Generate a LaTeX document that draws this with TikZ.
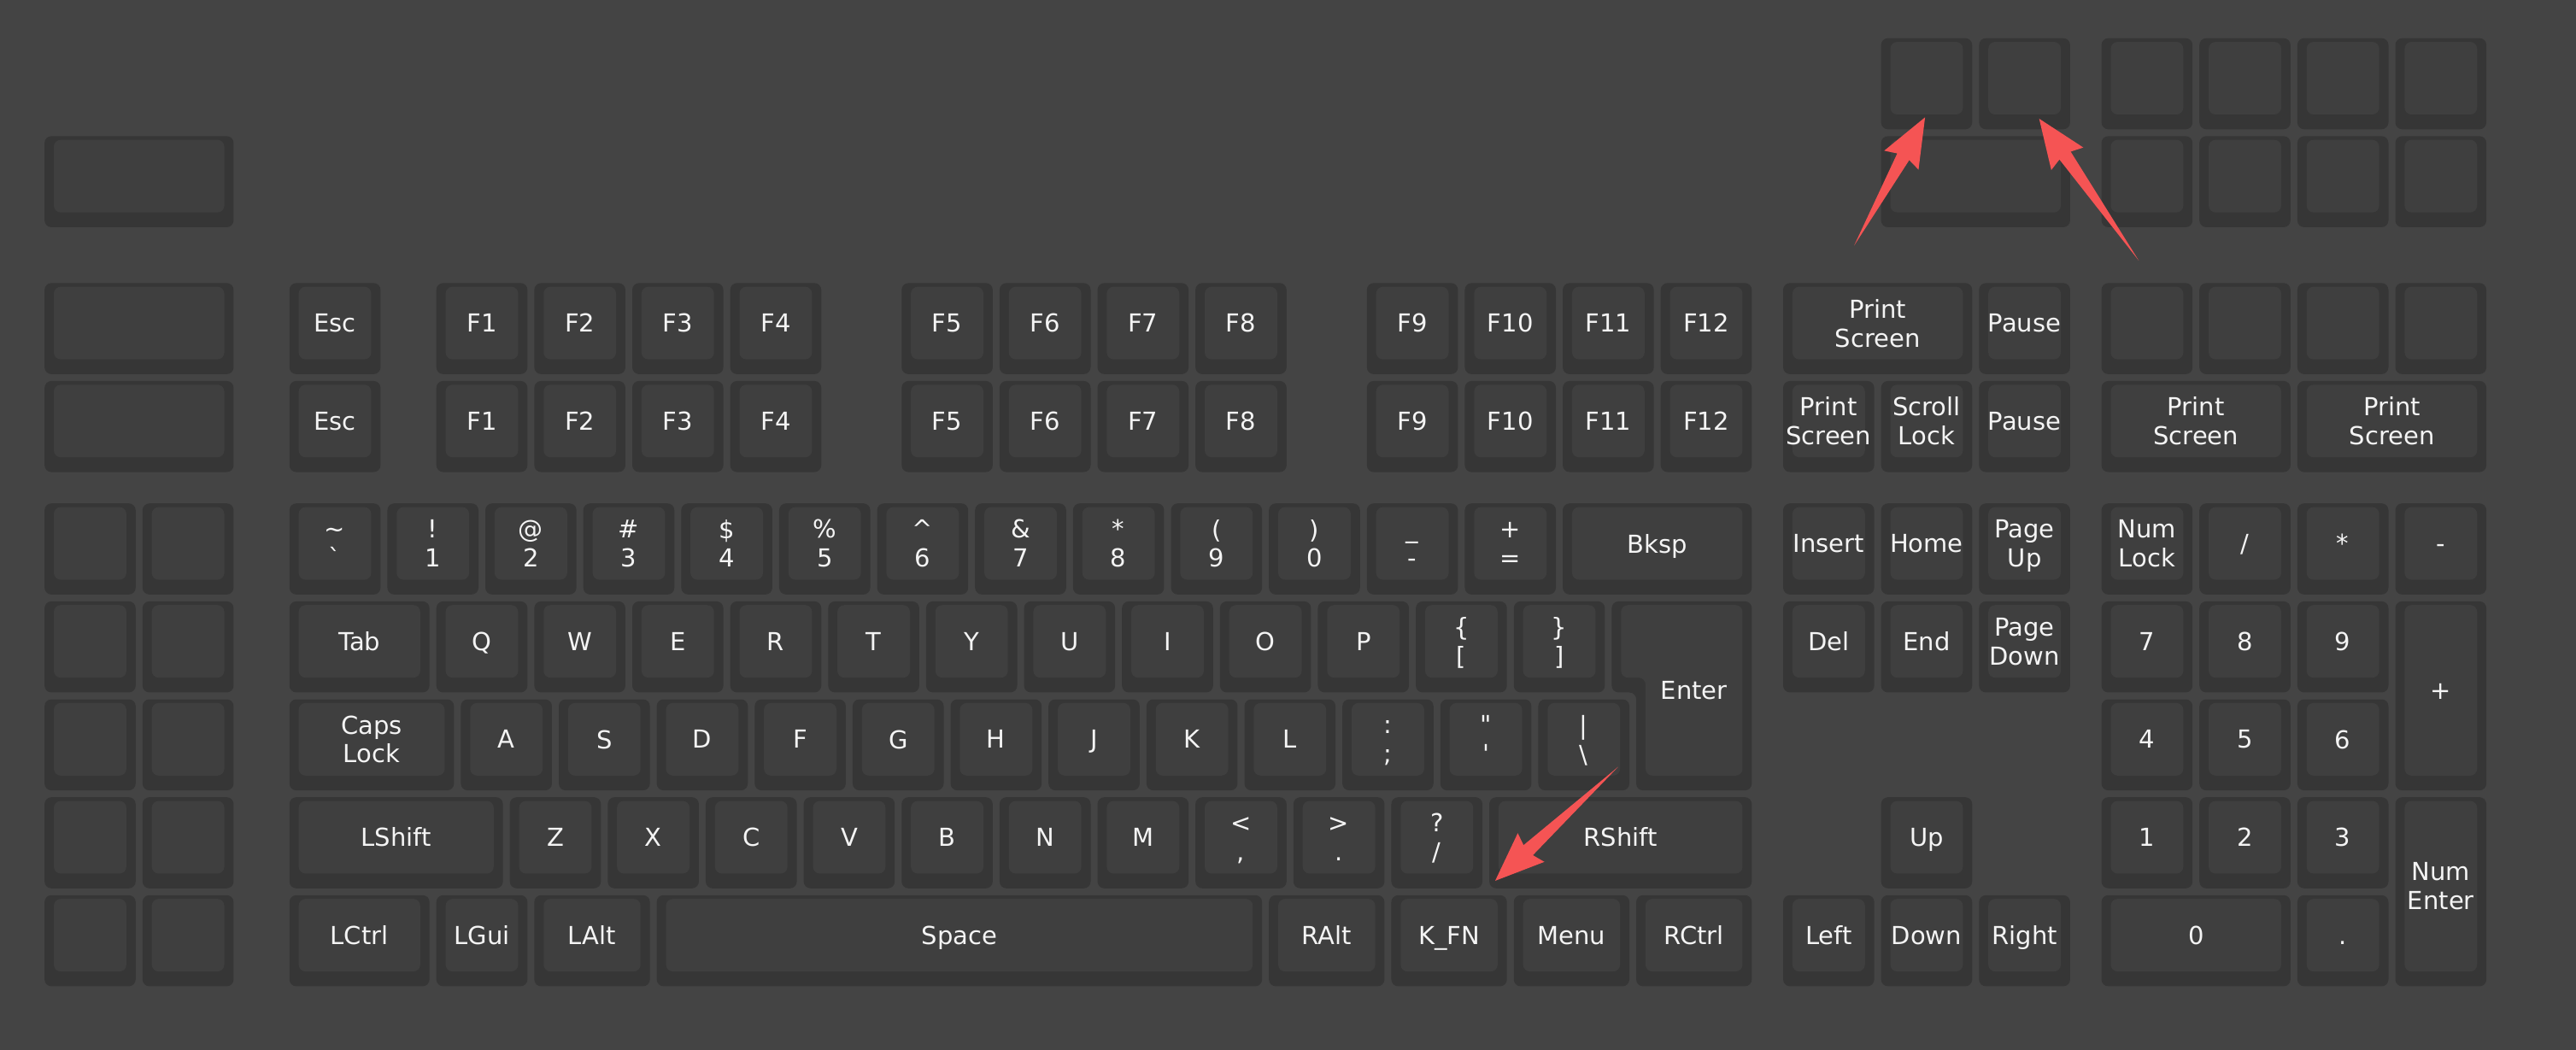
\documentclass[tikz,border=0pt]{standalone}
\usepackage{fontspec}
\usepackage{tikz}
\usetikzlibrary{calc}
\newfontfamily\keyfont{DejaVu Sans}
\definecolor{kbbg}{HTML}{444444}
\definecolor{kside}{HTML}{363636}
\definecolor{kface}{HTML}{3F3F3F}
\definecolor{ktext}{HTML}{F4F4F4}
\definecolor{arrowred}{HTML}{F55454}
\tikzset{
  keyside/.style={fill=kside,rounded corners=0.7mm},
  keyface/.style={fill=kface,rounded corners=0.7mm},
  keylabel/.style={text=ktext,font=\keyfont\fontsize{7.2}{8.4}\selectfont,
    align=center,inner sep=0pt,text depth=0pt},
  redarrow/.style={fill=arrowred},
}
% x, y, width, height, name, label
\newcommand{\kcap}[6]{%
  \fill[keyside] (#1+0.035,#2+0.035) rectangle (#1+#3-0.035,#2+#4-0.035);
  \fill[keyface] (#1+0.13,#2+0.073) rectangle (#1+#3-0.13,#2+#4-0.186);
  \node[keylabel] (#5) at (#1+#3/2,#2+#4/2-0.057) {\vphantom{E}#6};
}
% tail, tip
\newcommand{\pointer}[2]{%
  \coordinate (ah) at ($(#2)!5mm!(#1)$);
  \coordinate (an) at ($(#2)!4.6mm!(#1)$);
  \fill[redarrow] (#1) -- ($(an)!0.7mm!90:(#2)$) -- ($(ah)!2mm!90:(#2)$) -- (#2)
    -- ($(ah)!2mm!-90:(#2)$) -- ($(an)!0.7mm!-90:(#2)$) -- cycle;
}

\begin{document}
\begin{tikzpicture}[x=1cm,y=-1cm]
  \fill[kbbg] (-0.42,-0.355) rectangle (25.88,10.365);

  % extra rows on top
  \kcap{18.75}{0}{1}{1}{xa}{}  \kcap{19.75}{0}{1}{1}{xb}{}
  \kcap{21}{0}{1}{1}{xc}{}     \kcap{22}{0}{1}{1}{xd}{}
  \kcap{23}{0}{1}{1}{xe}{}     \kcap{24}{0}{1}{1}{xf}{}
  \kcap{0}{1}{2}{1}{ya}{}      \kcap{18.75}{1}{2}{1}{yb}{}
  \kcap{21}{1}{1}{1}{yc}{}     \kcap{22}{1}{1}{1}{yd}{}
  \kcap{23}{1}{1}{1}{ye}{}     \kcap{24}{1}{1}{1}{yf}{}

  % function rows
  \kcap{0}{2.5}{2}{1}{fa}{}
  \kcap{2.5}{2.5}{1}{1}{esc}{Esc}
  \kcap{4}{2.5}{1}{1}{f1}{F1}      \kcap{5}{2.5}{1}{1}{f2}{F2}
  \kcap{6}{2.5}{1}{1}{f3}{F3}      \kcap{7}{2.5}{1}{1}{f4}{F4}
  \kcap{8.75}{2.5}{1}{1}{f5}{F5}   \kcap{9.75}{2.5}{1}{1}{f6}{F6}
  \kcap{10.75}{2.5}{1}{1}{f7}{F7}  \kcap{11.75}{2.5}{1}{1}{f8}{F8}
  \kcap{13.5}{2.5}{1}{1}{f9}{F9}   \kcap{14.5}{2.5}{1}{1}{f10}{F10}
  \kcap{15.5}{2.5}{1}{1}{f11}{F11} \kcap{16.5}{2.5}{1}{1}{f12}{F12}
  \kcap{17.75}{2.5}{2}{1}{prt}{Print\\Screen}
  \kcap{19.75}{2.5}{1}{1}{pause}{Pause}
  \kcap{21}{2.5}{1}{1}{fc}{}  \kcap{22}{2.5}{1}{1}{fd}{}
  \kcap{23}{2.5}{1}{1}{fe}{}  \kcap{24}{2.5}{1}{1}{ff}{}

  \kcap{0}{3.5}{2}{1}{ga}{}
  \kcap{2.5}{3.5}{1}{1}{escb}{Esc}
  \kcap{4}{3.5}{1}{1}{f1b}{F1}      \kcap{5}{3.5}{1}{1}{f2b}{F2}
  \kcap{6}{3.5}{1}{1}{f3b}{F3}      \kcap{7}{3.5}{1}{1}{f4b}{F4}
  \kcap{8.75}{3.5}{1}{1}{f5b}{F5}   \kcap{9.75}{3.5}{1}{1}{f6b}{F6}
  \kcap{10.75}{3.5}{1}{1}{f7b}{F7}  \kcap{11.75}{3.5}{1}{1}{f8b}{F8}
  \kcap{13.5}{3.5}{1}{1}{f9b}{F9}   \kcap{14.5}{3.5}{1}{1}{f10b}{F10}
  \kcap{15.5}{3.5}{1}{1}{f11b}{F11} \kcap{16.5}{3.5}{1}{1}{f12b}{F12}
  \kcap{17.75}{3.5}{1}{1}{prtb}{Print\\Screen}
  \kcap{18.75}{3.5}{1}{1}{scrl}{Scroll\\Lock}
  \kcap{19.75}{3.5}{1}{1}{pauseb}{Pause}
  \kcap{21}{3.5}{2}{1}{prtc}{Print\\Screen}
  \kcap{23}{3.5}{2}{1}{prtd}{Print\\Screen}

  % number row
  \kcap{0}{4.75}{1}{1}{na}{}  \kcap{1}{4.75}{1}{1}{nb}{}
  \kcap{2.5}{4.75}{1}{1}{grv}{\textasciitilde\\\textasciigrave}
  \kcap{3.5}{4.75}{1}{1}{n1}{!\\1}
  \kcap{4.5}{4.75}{1}{1}{n2}{@\\2}
  \kcap{5.5}{4.75}{1}{1}{n3}{\#\\3}
  \kcap{6.5}{4.75}{1}{1}{n4}{\$\\4}
  \kcap{7.5}{4.75}{1}{1}{n5}{\%\\5}
  \kcap{8.5}{4.75}{1}{1}{n6}{\textasciicircum\\6}
  \kcap{9.5}{4.75}{1}{1}{n7}{\&\\7}
  \kcap{10.5}{4.75}{1}{1}{n8}{*\\8}
  \kcap{11.5}{4.75}{1}{1}{n9}{(\\9}
  \kcap{12.5}{4.75}{1}{1}{n0}{)\\0}
  \kcap{13.5}{4.75}{1}{1}{mns}{\_\\-}
  \kcap{14.5}{4.75}{1}{1}{eql}{+\\=}
  \kcap{15.5}{4.75}{2}{1}{bksp}{Bksp}
  \kcap{17.75}{4.75}{1}{1}{ins}{Insert}
  \kcap{18.75}{4.75}{1}{1}{home}{Home}
  \kcap{19.75}{4.75}{1}{1}{pgup}{Page\\Up}
  \kcap{21}{4.75}{1}{1}{nlck}{Num\\Lock}
  \kcap{22}{4.75}{1}{1}{pdiv}{/}
  \kcap{23}{4.75}{1}{1}{pmul}{*}
  \kcap{24}{4.75}{1}{1}{psub}{-}

  % top letter row
  \kcap{0}{5.75}{1}{1}{qa}{}  \kcap{1}{5.75}{1}{1}{qb}{}
  \kcap{2.5}{5.75}{1.5}{1}{tab}{Tab}
  \kcap{4}{5.75}{1}{1}{kq}{Q}   \kcap{5}{5.75}{1}{1}{kw}{W}
  \kcap{6}{5.75}{1}{1}{ke}{E}   \kcap{7}{5.75}{1}{1}{kr}{R}
  \kcap{8}{5.75}{1}{1}{kt}{T}   \kcap{9}{5.75}{1}{1}{ky}{Y}
  \kcap{10}{5.75}{1}{1}{ku}{U}  \kcap{11}{5.75}{1}{1}{ki}{I}
  \kcap{12}{5.75}{1}{1}{ko}{O}  \kcap{13}{5.75}{1}{1}{kp}{P}
  \kcap{14}{5.75}{1}{1}{lbr}{\{\\{[}}
  \kcap{15}{5.75}{1}{1}{rbr}{\}\\{]}}
  \fill[keyside] (16.035,5.785) -- (17.465,5.785) -- (17.465,7.715) -- (16.285,7.715)
    -- (16.285,6.715) -- (16.035,6.715) -- cycle;
  \fill[keyface] (16.13,5.823) -- (17.37,5.823) -- (17.37,7.564) -- (16.38,7.564)
    -- (16.38,6.564) -- (16.13,6.564) -- cycle;
  \node[keylabel] (ent) at (16.875,6.69) {\vphantom{E}Enter};
  \kcap{17.75}{5.75}{1}{1}{del}{Del}
  \kcap{18.75}{5.75}{1}{1}{end}{End}
  \kcap{19.75}{5.75}{1}{1}{pgdn}{Page\\Down}
  \kcap{21}{5.75}{1}{1}{p7}{7}  \kcap{22}{5.75}{1}{1}{p8}{8}
  \kcap{23}{5.75}{1}{1}{p9}{9}
  \kcap{24}{5.75}{1}{2}{padd}{+}

  % home row
  \kcap{0}{6.75}{1}{1}{aa}{}  \kcap{1}{6.75}{1}{1}{ab}{}
  \kcap{2.5}{6.75}{1.75}{1}{caps}{Caps\\Lock}
  \kcap{4.25}{6.75}{1}{1}{ka}{A}   \kcap{5.25}{6.75}{1}{1}{ks}{S}
  \kcap{6.25}{6.75}{1}{1}{kd}{D}   \kcap{7.25}{6.75}{1}{1}{kf}{F}
  \kcap{8.25}{6.75}{1}{1}{kg}{G}   \kcap{9.25}{6.75}{1}{1}{kh}{H}
  \kcap{10.25}{6.75}{1}{1}{kj}{J}  \kcap{11.25}{6.75}{1}{1}{kk}{K}
  \kcap{12.25}{6.75}{1}{1}{kl}{L}
  \kcap{13.25}{6.75}{1}{1}{scln}{:\\;}
  \kcap{14.25}{6.75}{1}{1}{quot}{\textquotedbl\\\textquotesingle}
  \kcap{15.25}{6.75}{1}{1}{bsls}{\textbar\\\textbackslash}
  \kcap{21}{6.75}{1}{1}{p4}{4}  \kcap{22}{6.75}{1}{1}{p5}{5}
  \kcap{23}{6.75}{1}{1}{p6}{6}

  % bottom letter row
  \kcap{0}{7.75}{1}{1}{za}{}  \kcap{1}{7.75}{1}{1}{zb}{}
  \kcap{2.5}{7.75}{2.25}{1}{lsft}{LShift}
  \kcap{4.75}{7.75}{1}{1}{kz}{Z}   \kcap{5.75}{7.75}{1}{1}{kx}{X}
  \kcap{6.75}{7.75}{1}{1}{kc}{C}   \kcap{7.75}{7.75}{1}{1}{kv}{V}
  \kcap{8.75}{7.75}{1}{1}{kb}{B}   \kcap{9.75}{7.75}{1}{1}{kn}{N}
  \kcap{10.75}{7.75}{1}{1}{km}{M}
  \kcap{11.75}{7.75}{1}{1}{comm}{\textless\\,}
  \kcap{12.75}{7.75}{1}{1}{dot}{\textgreater\\.}
  \kcap{13.75}{7.75}{1}{1}{slsh}{?\\/}
  \kcap{14.75}{7.75}{2.75}{1}{rsft}{RShift}
  \kcap{18.75}{7.75}{1}{1}{up}{Up}
  \kcap{21}{7.75}{1}{1}{p1}{1}  \kcap{22}{7.75}{1}{1}{p2}{2}
  \kcap{23}{7.75}{1}{1}{p3}{3}
  \kcap{24}{7.75}{1}{2}{pent}{Num\\Enter}

  % modifier row
  \kcap{0}{8.75}{1}{1}{ma}{}  \kcap{1}{8.75}{1}{1}{mb}{}
  \kcap{2.5}{8.75}{1.5}{1}{lctl}{LCtrl}
  \kcap{4}{8.75}{1}{1}{lgui}{LGui}
  \kcap{5}{8.75}{1.25}{1}{lalt}{LAlt}
  \kcap{6.25}{8.75}{6.25}{1}{spc}{Space}
  \kcap{12.5}{8.75}{1.25}{1}{ralt}{RAlt}
  \kcap{13.75}{8.75}{1.25}{1}{kfn}{K\_FN}
  \kcap{15}{8.75}{1.25}{1}{menu}{Menu}
  \kcap{16.25}{8.75}{1.25}{1}{rctl}{RCtrl}
  \kcap{17.75}{8.75}{1}{1}{left}{Left}
  \kcap{18.75}{8.75}{1}{1}{down}{Down}
  \kcap{19.75}{8.75}{1}{1}{right}{Right}
  \kcap{21}{8.75}{2}{1}{p0}{0}
  \kcap{23}{8.75}{1}{1}{pdot}{.}

  % pointers
  \coordinate (tailA) at (18.51,2.152);  \coordinate (tipA) at (19.234,0.843);
  \coordinate (tailB) at (21.416,2.306); \coordinate (tipB) at (20.399,0.857);
  \coordinate (tailC) at (16.10,7.475);  \coordinate (tipC) at (14.845,8.638);
  \pointer{tailA}{tipA}
  \pointer{tailB}{tipB}
  \pointer{tailC}{tipC}
\end{tikzpicture}
\end{document}
